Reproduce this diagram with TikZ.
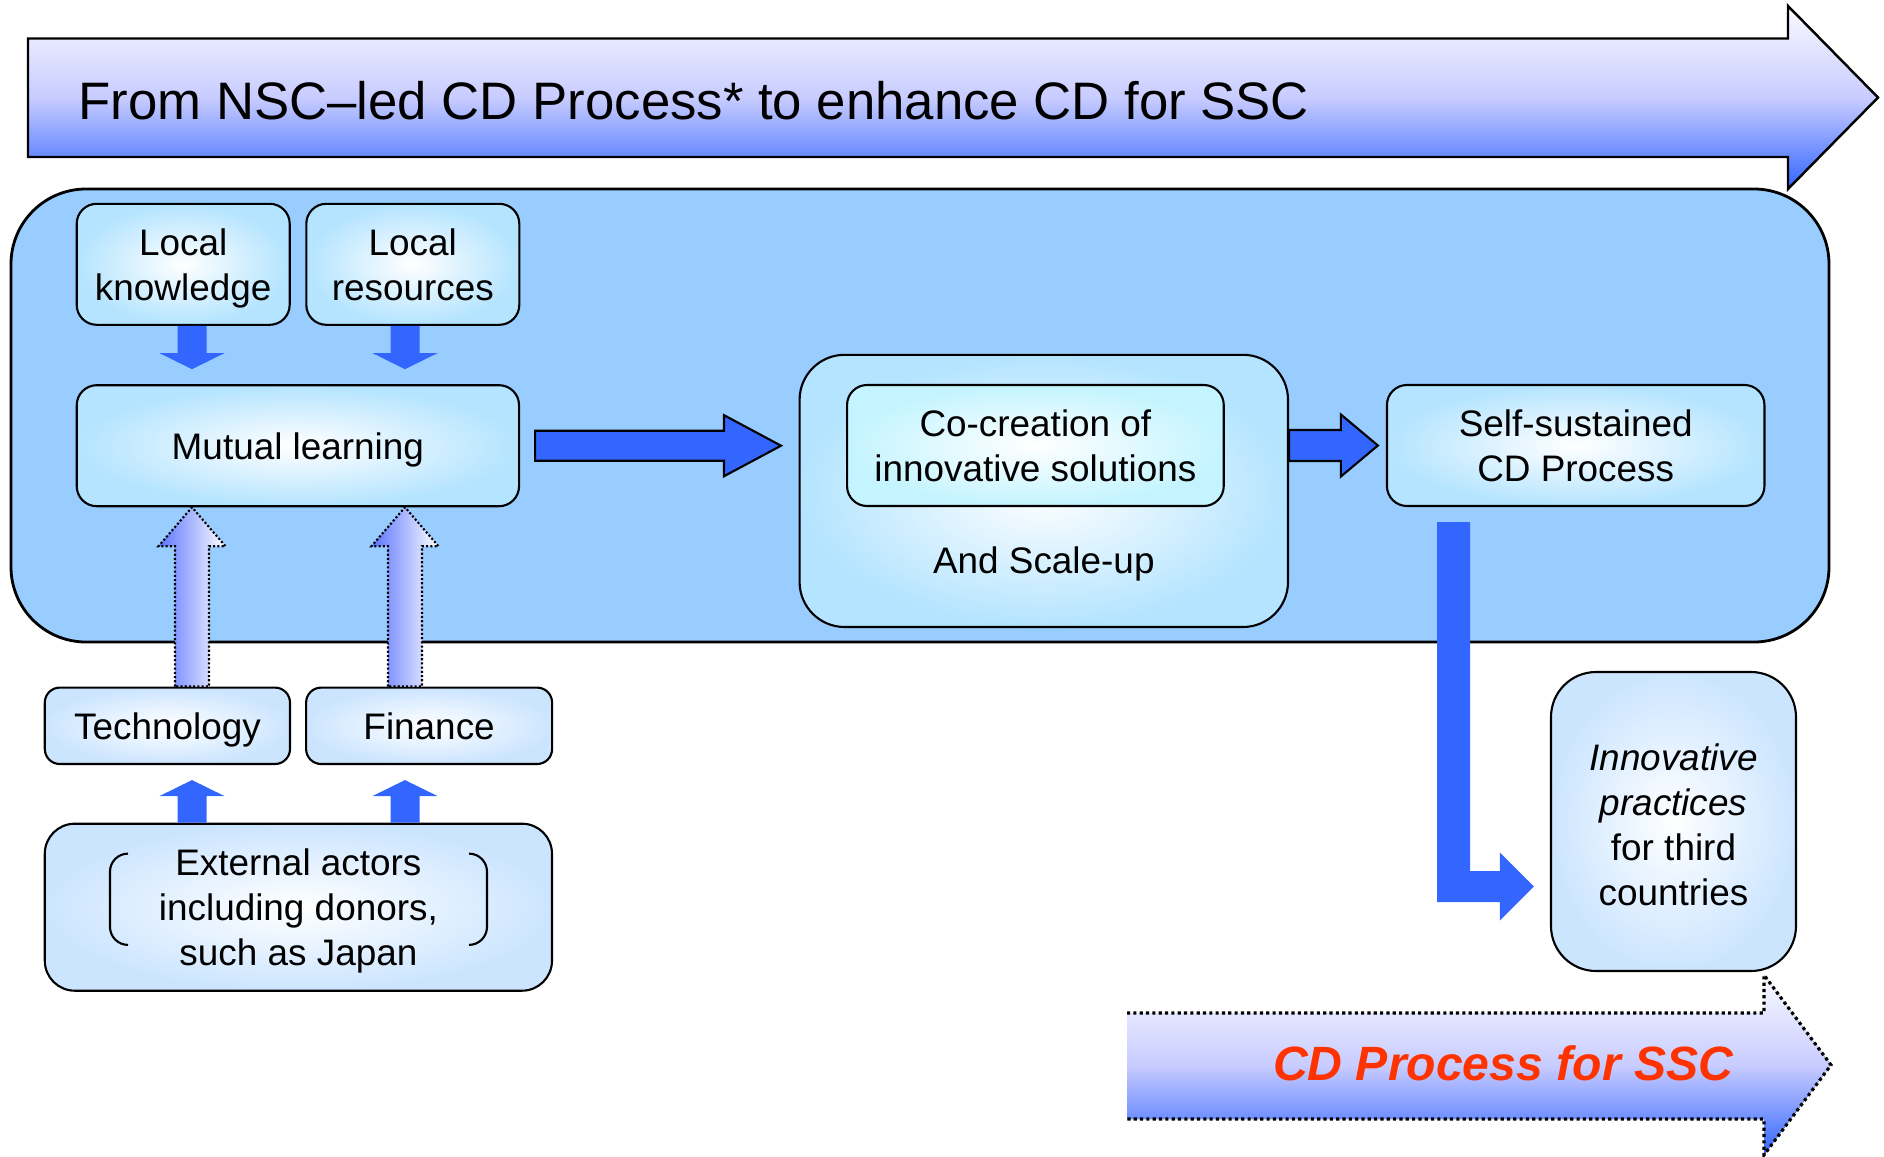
\documentclass[tikz,border=0pt]{standalone}
\usepackage{fontspec}
\setmainfont{Liberation Sans}
\usetikzlibrary{positioning,calc}

\definecolor{panelblue}{RGB}{153,204,255}
\definecolor{cyanfill}{RGB}{180,228,255}
\definecolor{cyaninner}{RGB}{196,244,255}
\definecolor{palefill}{RGB}{204,229,255}
\definecolor{arrowblue}{RGB}{51,102,255}
\definecolor{bandtop}{RGB}{250,250,255}
\definecolor{bandmid}{RGB}{200,204,255}
\definecolor{bandbot}{RGB}{51,102,255}
\definecolor{sscred}{RGB}{255,51,0}

\begin{document}
\begin{tikzpicture}[
    boxtext/.style={font=\fontsize{10.5}{12.8}\selectfont},
    cbox/.style={draw,line width=0.6pt,rounded corners=0.2cm,inner color=white,outer color=cyanfill,align=center,inner sep=0pt,boxtext,text depth=-0.55pt},
    pbox/.style={cbox,rounded corners=0.15cm,outer color=palefill},
    fatup/.style n args={4}{to path={let \p1=(\tikztostart), \p2=(\tikztotarget) in
        (\x1-#1,\y1) -- (\x1-#1,\y2-#4-#3) -- (\x1-#2,\y2-#4-#3) -- (\x1,\y2-#4) -- (\x1+#2,\y2-#4-#3) -- (\x1+#1,\y2-#4-#3) -- (\x1+#1,\y1) -- cycle}},
    fatdown/.style n args={4}{to path={let \p1=(\tikztostart), \p2=(\tikztotarget) in
        (\x1-#1,\y1) -- (\x1-#1,\y2+#4+#3) -- (\x1-#2,\y2+#4+#3) -- (\x1,\y2+#4) -- (\x1+#2,\y2+#4+#3) -- (\x1+#1,\y2+#4+#3) -- (\x1+#1,\y1) -- cycle}},
    fatright/.style n args={4}{to path={let \p1=(\tikztostart), \p2=(\tikztotarget) in
        (\x1,\y1-#1) -- (\x2-#4-#3,\y1-#1) -- (\x2-#4-#3,\y1-#2) -- (\x2-#4,\y1) -- (\x2-#4-#3,\y1+#2) -- (\x2-#4-#3,\y1+#1) -- (\x1,\y1+#1) -- cycle}},
    dotup/.style={draw,line width=0.6pt,dash pattern=on 0.6pt off 0.6pt,left color={rgb,255:red,90;green,115;blue,255},right color=white},
    band/.style={top color=bandtop,bottom color=bandbot,middle color=bandmid}
  ]
    %\draw[help lines] (0,0) grid (19,-12);
    \useasboundingbox (0,0) rectangle (18.84,-11.57);
    \coordinate (colA) at (1.92,0);
    \coordinate (colB) at (4.05,0);
    \coordinate (colC) at (14.535,0);
    \coordinate (turn) at (0,-8.865);

    % top band
    \draw[band,line width=0.7pt] (0.28,-0.385) -- (17.88,-0.385) -- (17.88,-0.06) -- (18.78,-0.975) -- (17.88,-1.89) -- (17.88,-1.57) -- (0.28,-1.57) -- cycle;
    \node[font=\fontsize{15}{18}\selectfont,inner sep=0pt,anchor=base west] (title) at (0.78,-1.19) {From NSC–led CD Process* to enhance CD for SSC};

    \node[draw,fill=panelblue,line width=0.8pt,rounded corners=0.75cm,minimum width=18.18cm,minimum height=4.53cm,inner sep=0pt] (panel) at (9.2,-4.155) {};

    \node[cbox,minimum width=2.13cm,minimum height=1.21cm] (knowledge) at (1.832,-2.643) {Local\\knowledge};
    \node[cbox,minimum width=2.13cm,minimum height=1.21cm] (resources) [right=0.145cm of knowledge] {Local\\resources};
    \node[cbox,minimum width=4.423cm,minimum height=1.21cm] (mutual) at (2.979,-4.457) {Mutual learning};
    \node[cbox,rounded corners=0.45cm,minimum width=4.884cm,minimum height=2.722cm] (cocreate) at (10.438,-4.909) {};
    \node[cbox,outer color=cyaninner,minimum width=3.767cm,minimum height=1.21cm] (cocreation) at (10.354,-4.455) {Co-creation of\\innovative solutions};
    \node[boxtext,anchor=base] (scaleup) at ($(cocreate.south)+(0,0.55)$) {And Scale-up};
    \node[cbox,minimum width=3.775cm,minimum height=1.21cm] (self) at (15.757,-4.455) {Self-sustained\\CD Process};
    \node[pbox,minimum width=2.452cm,minimum height=0.764cm] (tech) at (1.674,-7.258) {Technology};
    \node[pbox,minimum width=2.46cm,minimum height=0.764cm] (finance) [right=0.14cm of tech] {Finance};
    \node[pbox,rounded corners=0.3cm,minimum width=5.072cm,minimum height=1.67cm] (external) at (2.984,-9.072) {External actors\\including donors,\\such as Japan};
    \node[pbox,rounded corners=0.45cm,minimum width=2.45cm,minimum height=2.99cm,execute at begin node={\rule{0pt}{48pt}}] (innov) at (16.735,-8.215) {\textit{Innovative}\\\textit{practices}\\for third\\countries};

    \draw[line width=0.6pt,rounded corners=0.18cm] ($(external.center)+(-1.704,0.536)$) -- ++(-0.18,0) -- ++(0,-0.913) -- ++(0.18,0);
    \draw[line width=0.6pt,rounded corners=0.18cm] ($(external.center)+(1.706,0.536)$) -- ++(0.18,0) -- ++(0,-0.913) -- ++(-0.18,0);

    \path[fatdown={0.145cm}{0.325cm}{0.16cm}{0.15cm},fill=arrowblue] (knowledge.south -| colA) to (mutual.north -| colA);
    \path[fatdown={0.145cm}{0.325cm}{0.16cm}{0.15cm},fill=arrowblue] (resources.south -| colB) to (mutual.north -| colB);
    \path[fatup={0.17cm}{0.335cm}{0.39cm}{0cm},dotup] (tech.north -| colA) to (mutual.south -| colA);
    \path[fatup={0.17cm}{0.335cm}{0.39cm}{0cm},dotup] (finance.north -| colB) to (mutual.south -| colB);
    \path[fatup={0.145cm}{0.325cm}{0.16cm}{0.15cm},fill=arrowblue] (external.north -| colA) to (tech.south -| colA);
    \path[fatup={0.145cm}{0.325cm}{0.16cm}{0.15cm},fill=arrowblue] (external.north -| colB) to (finance.south -| colB);
    \path[fatright={0.15cm}{0.305cm}{0.57cm}{0.175cm},draw,line width=0.6pt,fill=arrowblue] ($(mutual.east)+(0.15,0)$) to (cocreate.west);
    \path[fatright={0.155cm}{0.31cm}{0.37cm}{0.08cm},draw,line width=0.6pt,fill=arrowblue] (cocreate.east |- cocreation.east) to (self.west);
    \fill[arrowblue] let \p1=($(self.south -| colC)+(0,-0.15)$), \p2=($(innov.west |- turn)+(-0.16,0)$) in
      (\x1-0.165cm,\y1) -- (\x1-0.165cm,\y2-0.155cm) -- (\x2-0.34cm,\y2-0.155cm) -- (\x2-0.34cm,\y2-0.34cm) -- (\p2)
      -- (\x2-0.34cm,\y2+0.34cm) -- (\x2-0.34cm,\y2+0.155cm) -- (\x1+0.165cm,\y2+0.155cm) -- (\x1+0.165cm,\y1) -- cycle;

    % bottom band
    \fill[band] (11.27,-10.13) -- (17.64,-10.13) -- (17.64,-9.75) -- (18.31,-10.65) -- (17.64,-11.55) -- (17.64,-11.19) -- (11.27,-11.19) -- cycle;
    \draw[line width=0.9pt,dash pattern=on 0.9pt off 0.9pt] (11.27,-10.13) -- (17.64,-10.13) -- (17.64,-9.75) -- (18.31,-10.65) -- (17.64,-11.55) -- (17.64,-11.19) -- (11.27,-11.19);
    \node[font=\fontsize{13.7}{16}\selectfont\bfseries\itshape,text=sscred,inner sep=0pt,anchor=base east] (ssc) at (17.34,-10.80) {CD Process for SSC};
\end{tikzpicture}
\end{document}
